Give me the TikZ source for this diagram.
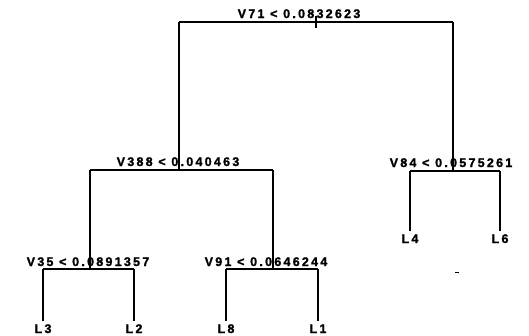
\documentclass[tikz,border=0pt]{standalone}
\usepackage{fontspec}
\newfontfamily\treefont[LetterSpace=18,BoldFeatures={FakeBold=1.5}]{Liberation Sans}
\usetikzlibrary{positioning}

\begin{document}
\begin{tikzpicture}[x=1pt,y=-1pt,
    branch/.style={line width=2pt},
    splitlabel/.style={font=\treefont\bfseries\fontsize{12.5}{12.5}\selectfont,inner sep=0pt,anchor=base},
    leaflabel/.style={font=\treefont\bfseries\fontsize{12.5}{12.5}\selectfont,inner sep=0pt,anchor=base}]
  \useasboundingbox (0,0) rectangle (529,335);

  % split points
  \coordinate (v71) at (316,22);
  \coordinate (v71l) at (179,22);
  \coordinate (v71r) at (453,22);
  \coordinate (v388l) at (90,170);
  \coordinate (v388r) at (273,170);
  \coordinate (v84l) at (410,171);
  \coordinate (v84r) at (500,171);
  \coordinate (v35l) at (43,269);
  \coordinate (v35r) at (134,269);
  \coordinate (v91l) at (226,269);
  \coordinate (v91r) at (318,269);

  % split labels
  \node[splitlabel] (s71) at (299,18) {V71 < 0.0832623};
  \node[splitlabel] (s388) at (178,166) {V388 < 0.040463};
  \node[splitlabel] (s84) at (451,167) {V84 < 0.0575261};
  \node[splitlabel] (s35) at (88,266) {V35 < 0.0891357};
  \node[splitlabel] (s91) at (266,266) {V91 < 0.0646244};

  % leaves
  \node[leaflabel] (l3) at (43,333) {L3};
  \node[leaflabel] (l2) at (134,333) {L2};
  \node[leaflabel] (l8) at (226,333) {L8};
  \node[leaflabel] (l1) at (318,333) {L1};
  \node[leaflabel] (l4) at (410,243) {L4};
  \node[leaflabel] (l6) at (500,243) {L6};

  % branches
  \draw[branch] (v71) ++(0,-6) -- ++(0,12);
  \draw[branch] (v71l) -- (v71r);
  \draw[branch] (v71l) -- (v71l |- v388l);
  \draw[branch] (v71r) -- (v71r |- v84l);
  \draw[branch] (v388l) -- (v388r);
  \draw[branch] (v84l) -- (v84r);
  \draw[branch] (v388l) -- (v388l |- v35l);
  \draw[branch] (v388r) -- (v388r |- v91l);
  \draw[branch] (v35l) -- (v35r);
  \draw[branch] (v91l) -- (v91r);
  \draw[branch,shorten >=3pt] (v35l) -- (l3.north);
  \draw[branch,shorten >=3pt] (v35r) -- (l2.north);
  \draw[branch,shorten >=3pt] (v91l) -- (l8.north);
  \draw[branch,shorten >=3pt] (v91r) -- (l1.north);
  \draw[branch,shorten >=3pt] (v84l) -- (l4.north);
  \draw[branch,shorten >=3pt] (v84r) -- (l6.north);

  \draw[line width=1pt] (455,272) -- (459,272);
\end{tikzpicture}
\end{document}
